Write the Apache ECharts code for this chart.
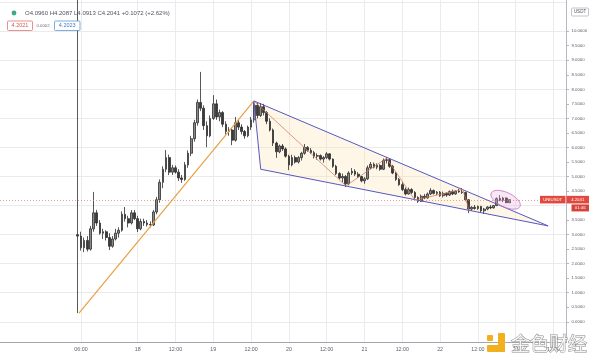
<!DOCTYPE html>
<html><head><meta charset="utf-8">
<script src="https://cdn.jsdelivr.net/npm/echarts@6/dist/echarts.min.js"></script>
<style>html,body{margin:0;padding:0;background:#fff}#c{width:600px;height:359px}</style>
</head><body><div id="c"></div>
<script>
// hourly candles; hour counted from 17th 00:00, first candle at hour 5
const firstHour = 5;
const opens = [
3.00,2.95,2.55,2.80,2.50,3.20,3.75,3.40,3.05,3.10,
2.90,2.60,2.85,3.05,3.15,3.70,3.55,3.40,3.75,3.55,
3.20,3.45,3.40,3.35,3.33,3.78,4.20,4.80,5.25,5.65,
5.15,5.30,5.15,4.95,4.90,5.40,5.80,6.30,6.85,7.55,
7.35,6.75,6.40,7.00,7.50,7.05,7.20,6.80,6.55,6.60,
6.25,6.85,6.70,6.55,6.40,6.70,6.95,7.45,7.10,7.40,
7.20,6.90,6.60,6.15,5.85,6.05,5.95,5.70,5.40,5.65,
5.50,5.65,5.80,6.00,5.90,5.82,5.70,5.72,5.60,5.65,
5.78,5.60,5.35,5.10,4.95,5.00,4.75,5.12,5.18,5.08,
5.00,4.85,4.92,5.30,5.42,5.32,5.38,5.25,5.55,5.58,
5.35,5.12,4.90,4.72,4.55,4.40,4.55,4.45,4.28,4.15,
4.32,4.26,4.40,4.52,4.42,4.46,4.34,4.42,4.36,4.48,
4.40,4.50,4.47,4.45,4.20,3.88,3.94,3.90,3.97,3.82,
3.88,3.95,3.92,4.00,4.24,4.18,4.26,4.0960];
const highs = [
12.00,3.10,2.90,2.95,3.30,4.47,3.85,3.50,3.20,3.15,
3.05,2.95,3.20,3.25,3.80,3.95,3.65,3.85,3.85,3.65,
3.55,3.55,3.50,3.45,3.85,4.30,4.90,5.35,5.91,5.75,
5.40,5.38,5.25,5.05,5.50,5.90,6.40,6.95,7.65,8.60,
7.45,6.90,7.10,7.80,7.65,7.30,7.25,6.90,6.70,6.65,
7.05,6.95,6.80,6.60,6.75,7.05,7.60,7.55,7.53,7.50,
7.25,7.00,6.65,6.20,6.10,6.12,6.00,5.75,5.75,5.72,
5.70,5.85,6.12,6.05,5.98,5.88,5.80,5.76,5.70,5.84,
5.80,5.62,5.40,5.15,5.10,5.05,5.18,5.29,5.25,5.15,
5.02,4.98,5.38,5.50,5.48,5.45,5.42,5.62,5.67,5.62,
5.40,5.15,4.95,4.80,4.62,4.62,4.60,4.50,4.32,4.38,
4.40,4.45,4.60,4.55,4.50,4.50,4.48,4.46,4.52,4.55,
4.52,4.58,4.60,4.48,4.22,3.98,4.02,4.00,3.99,3.92,
3.98,4.02,4.02,4.28,4.36,4.30,4.28,4.2087];
const lows = [
0.30,2.45,2.40,2.42,2.45,3.10,3.30,3.00,2.85,2.80,
2.47,2.55,2.80,2.90,3.10,3.45,3.25,3.35,3.50,3.09,
3.15,3.30,3.28,3.25,3.30,3.70,4.10,4.60,5.15,5.05,
5.05,5.10,4.85,4.78,4.85,5.30,5.70,6.20,6.75,7.25,
6.60,6.01,6.35,6.95,6.95,6.90,6.70,6.45,6.40,6.08,
6.20,6.60,6.45,6.30,6.35,6.60,6.85,7.00,7.05,7.10,
6.80,6.55,6.05,5.64,5.80,5.88,5.65,5.22,5.35,5.45,
5.45,5.55,5.75,5.85,5.78,5.62,5.58,5.55,5.48,5.60,
5.55,5.30,5.05,4.90,4.80,4.64,4.70,5.05,5.02,4.95,
4.80,4.75,4.88,5.25,5.28,5.25,5.20,5.22,5.45,5.30,
5.08,4.85,4.68,4.50,4.35,4.38,4.40,4.22,4.09,4.12,
4.22,4.24,4.36,4.38,4.36,4.30,4.28,4.30,4.33,4.36,
4.37,4.44,4.40,4.15,3.74,3.82,3.86,3.85,3.78,3.71,
3.84,3.88,3.90,3.98,4.15,4.12,4.08,4.0913];
const closes = [
2.95,2.55,2.80,2.50,3.20,3.75,3.40,3.05,3.10,2.90,
2.60,2.85,3.05,3.15,3.70,3.55,3.40,3.75,3.55,3.20,
3.45,3.40,3.35,3.33,3.78,4.20,4.80,5.25,5.65,5.15,
5.30,5.15,4.95,4.90,5.40,5.80,6.30,6.85,7.55,7.35,
6.75,6.40,7.00,7.50,7.05,7.20,6.80,6.55,6.60,6.25,
6.85,6.70,6.55,6.40,6.70,6.95,7.45,7.10,7.40,7.20,
6.90,6.60,6.15,5.85,6.05,5.95,5.70,5.40,5.65,5.50,
5.65,5.80,6.00,5.90,5.82,5.70,5.72,5.60,5.65,5.78,
5.60,5.35,5.10,4.95,5.00,4.75,5.12,5.18,5.08,5.00,
4.85,4.92,5.30,5.42,5.32,5.38,5.25,5.55,5.58,5.35,
5.12,4.90,4.72,4.55,4.40,4.55,4.45,4.28,4.15,4.32,
4.26,4.40,4.52,4.42,4.46,4.34,4.42,4.36,4.48,4.40,
4.50,4.47,4.45,4.20,3.88,3.94,3.90,3.97,3.82,3.88,
3.95,3.92,4.00,4.24,4.18,4.26,4.10,4.2041];

// axis ticks
const xTickHours  = [6, 24, 36, 48, 60, 72, 84, 96, 108, 120, 132, 144, 156];
const xTickLabels = ['06:00','18','12:00','19','12:00','20','12:00','21','12:00','22','12:00','23','12:00'];
const yLabelValues = [0,0.5,1,1.5,2,2.5,3,3.5,4.5,5,5.5,6,6.5,7,7.5,8,8.5,9,9.5,10];
const yGridValues = [0,1,2,3,4,5,6,7,8,9,10,11];

// drawings (hour, price)
const trendLine  = [[5.37, 0.30], [60.9, 7.60]];
const wedgeUpper = [[60.9, 7.60], [154.3, 3.30]];
const wedgeLower = [[60.9, 7.60], [63.05, 5.25], [154.3, 3.30]];
const zigzag     = [[61.2, 7.57], [90.1, 4.68], [103.0, 5.63], [112.0, 4.19], [127.2, 4.56], [129.3, 3.80]];
const ellipseCenter = [140.8, 4.20];
const ellipseSize   = [6.3, 0.50];

const candleData = opens.map((o, i) => [firstHour + i, o, closes[i], lows[i], highs[i]]);
const lastClose = closes[closes.length - 1];

const chart = echarts.init(document.getElementById('c'), null, {renderer: 'canvas'});
const FONT = 'Liberation Sans';
const option = {
  animation: false,
  backgroundColor: '#ffffff',
  grid: {left: 0, right: 34, top: 0, bottom: 16.3, containLabel: false},
  xAxis: {
    type: 'value', min: -19.71, max: 159.97,
    axisLine: {show: true, onZero: false, lineStyle: {color: '#a3a6ad', width: 1}},
    axisTick: {show: false, customValues: xTickHours},
    axisLabel: {customValues: xTickHours, margin: 4, fontSize: 5.3, fontFamily: FONT, color: '#5d606b',
      formatter: v => xTickLabels[xTickHours.indexOf(v)] || ''},
    splitLine: {show: true, lineStyle: {color: '#ebebee', width: 1}}
  },
  yAxis: [{
    type: 'value', position: 'right', min: -0.719, max: 11.074,
    axisLine: {show: true, onZero: false, lineStyle: {color: '#b5b8bf', width: 1}},
    axisTick: {show: true, length: 3, customValues: yLabelValues, lineStyle: {color: '#b5b8bf'}},
    axisLabel: {customValues: yLabelValues, margin: 5.5, fontSize: 4.3, fontFamily: FONT, color: '#5d606b',
      formatter: v => v.toFixed(4)},
    splitLine: {show: false}
  }, {
    type: 'value', position: 'right', min: -0.719, max: 11.074,
    axisLine: {show: false, onZero: false}, axisLabel: {show: false},
    axisTick: {show: false, customValues: yGridValues},
    splitLine: {show: true, lineStyle: {color: '#ebebee', width: 1}}
  }],
  series: [
    {
      type: 'custom', coordinateSystem: 'cartesian2d', silent: true, z: 1,
      data: [wedgeUpper[0]],
      renderItem: (params, api) => ({
        type: 'polygon',
        shape: {points: [wedgeUpper[0], wedgeUpper[1], wedgeLower[1]].map(p => api.coord(p))},
        style: {fill: 'rgba(252, 222, 160, 0.25)'}
      })
    },
    {
      type: 'candlestick', z: 2, barWidth: 2.2,
      encode: {x: 0, y: [1, 2, 3, 4]},
      data: candleData,
      itemStyle: {color: '#8a8a8a', color0: '#3a3a3a', borderColor: '#2e2e2e', borderColor0: '#2e2e2e', borderWidth: 0.8},
      markLine: {
        silent: true, symbol: 'none', animation: false,
        label: {show: false},
        lineStyle: {color: '#ef6f68', type: [1, 2], width: 1, opacity: 0.7},
        data: [{yAxis: lastClose}]
      }
    },
    {type: 'line', z: 3, silent: true, symbol: 'none', data: trendLine, lineStyle: {color: '#e8a040', width: 1.2}},
    {type: 'line', z: 3, silent: true, symbol: 'none', data: wedgeUpper, lineStyle: {color: '#5558c0', width: 1}},
    {type: 'line', z: 3, silent: true, symbol: 'none', data: wedgeLower, lineStyle: {color: '#5558c0', width: 1}},
    {type: 'line', z: 3, silent: true, symbol: 'none', data: zigzag, lineStyle: {color: '#cf7a66', width: 0.9, opacity: 0.85}},
    {
      type: 'custom', coordinateSystem: 'cartesian2d', silent: true, z: 4,
      data: [ellipseCenter],
      renderItem: (params, api) => {
        const c = api.coord(ellipseCenter);
        const s = api.size(ellipseSize);
        const rx = s[0] / 2 * 1.6, ry = s[1] / 2 * 1.0, a = 25 * Math.PI / 180;
        const pts = [];
        for (let i = 0; i < 48; i++) {
          const t = i / 48 * Math.PI * 2;
          const x = rx * Math.cos(t), y = ry * Math.sin(t);
          pts.push([c[0] + x * Math.cos(a) - y * Math.sin(a), c[1] + x * Math.sin(a) + y * Math.cos(a)]);
        }
        return {type: 'polygon', shape: {points: pts}, style: {fill: 'rgba(235,165,225,0.28)', stroke: '#c77dbb', lineWidth: 0.9}};
      }
    }
  ],
  graphic: [
    {type: 'circle', z: 100, shape: {cx: 14, cy: 13, r: 2.4}, style: {fill: '#3aa98c'}},
    {type: 'text', z: 100, x: 25, y: 13, style: {text: 'O4.0960 H4.2087 L4.0913 C4.2041 +0.1072 (+2.62%)', font: '6px "Liberation Sans"', fill: '#50535e', verticalAlign: 'middle'}},
    {type: 'rect', z: 100, shape: {x: 7.5, y: 21, width: 25, height: 9.5, r: 1}, style: {fill: '#fff', stroke: '#e57373', lineWidth: 0.8}},
    {type: 'text', z: 101, x: 20, y: 25.8, style: {text: '4.2021', font: '5.5px "Liberation Sans"', fill: '#e05050', align: 'center', verticalAlign: 'middle'}},
    {type: 'text', z: 100, x: 43, y: 25.8, style: {text: '0.0002', font: '4.3px "Liberation Sans"', fill: '#6a6d78', align: 'center', verticalAlign: 'middle'}},
    {type: 'rect', z: 100, shape: {x: 54.5, y: 21, width: 25.5, height: 9.5, r: 1}, style: {fill: '#fff', stroke: '#5c9bd6', lineWidth: 0.8}},
    {type: 'text', z: 101, x: 67.2, y: 25.8, style: {text: '4.2023', font: '5.5px "Liberation Sans"', fill: '#3d7cc9', align: 'center', verticalAlign: 'middle'}},
    {type: 'rect', z: 100, shape: {x: 571.5, y: 8, width: 17, height: 8, r: 1}, style: {fill: '#fff', stroke: '#a9acb3', lineWidth: 0.7}},
    {type: 'text', z: 101, x: 580, y: 12.2, style: {text: 'USDT', font: '4.5px "Liberation Sans"', fill: '#50535e', align: 'center', verticalAlign: 'middle'}},
    // watermark
    {type: 'rect', z: 100, shape: {x: 487, y: 335, width: 6, height: 6, r: 1}, style: {fill: '#f2b01e'}},
    {type: 'rect', z: 100, shape: {x: 498, y: 333, width: 7, height: 19, r: 1}, style: {fill: '#f2b01e'}},
    {type: 'rect', z: 100, shape: {x: 487, y: 345, width: 18, height: 7, r: 1}, style: {fill: '#f2b01e'}},
    {type: 'text', z: 100, x: 549, y: 344, style: {text: '金色财经', font: '19px "Noto Sans CJK SC"', fill: 'rgba(255,255,255,0.85)', stroke: '#8d8d8d', lineWidth: 1, align: 'center', verticalAlign: 'middle'}}
  ]
};
chart.setOption(option);

const py = chart.convertToPixel({yAxisIndex: 0}, lastClose);
chart.setOption({
  graphic: option.graphic.concat([
    {type: 'rect', z: 110, shape: {x: 540, y: py - 3.8, width: 25.5, height: 7.6}, style: {fill: '#e2493e'}},
    {type: 'text', z: 111, x: 552.7, y: py, style: {text: 'UNIUSDT', font: '4.3px "Liberation Sans"', fill: '#fff', align: 'center', verticalAlign: 'middle'}},
    {type: 'rect', z: 110, shape: {x: 566.5, y: py - 3.8, width: 22.5, height: 7.6}, style: {fill: '#e2493e'}},
    {type: 'text', z: 111, x: 577.7, y: py, style: {text: lastClose.toFixed(4), font: '4.3px "Liberation Sans"', fill: '#fff', align: 'center', verticalAlign: 'middle'}},
    {type: 'rect', z: 110, shape: {x: 571.5, y: py + 4.8, width: 17.5, height: 7}, style: {fill: '#d6433a'}},
    {type: 'text', z: 111, x: 580.2, y: py + 8.3, style: {text: '01:46', font: '4.3px "Liberation Sans"', fill: '#fff', align: 'center', verticalAlign: 'middle'}}
  ])
}, {replaceMerge: ['graphic']});
</script>
</body></html>
